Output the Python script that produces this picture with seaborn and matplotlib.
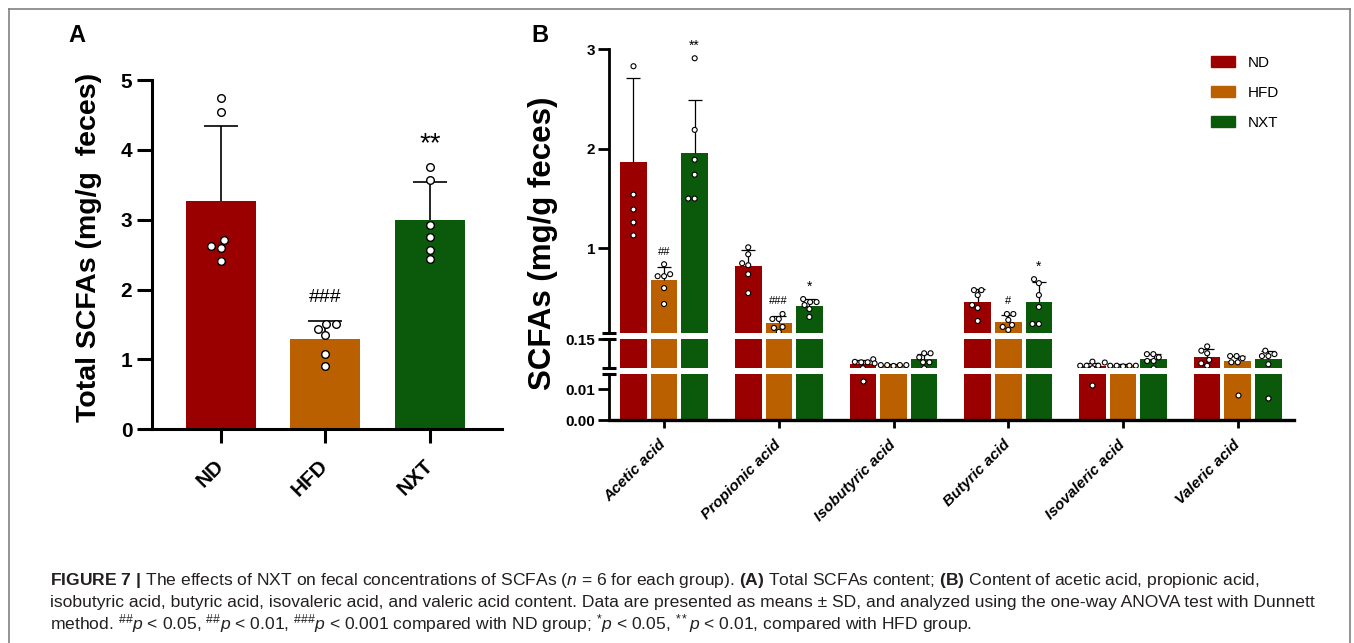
import numpy as np
import pandas as pd
import seaborn as sns
import matplotlib.pyplot as plt
import matplotlib.patches as mpatches
from matplotlib.lines import Line2D

plt.rcParams['font.family'] = ['Liberation Sans', 'DejaVu Sans']
plt.rcParams['mathtext.fontset'] = 'custom'
plt.rcParams['mathtext.rm'] = 'Liberation Sans'
plt.rcParams['mathtext.it'] = 'Liberation Sans:italic'
plt.rcParams['mathtext.bf'] = 'Liberation Sans:bold'

groups = ["ND", "HFD", "NXT"]
colors = ["#9b0000", "#bb6000", "#0b5a0b"]

# panel A: total SCFAs, one value per mouse (mg/g feces)
total_nd = [4.74, 4.54, 2.71, 2.62, 2.59, 2.41]
total_hfd = [1.51, 1.51, 1.44, 1.35, 1.08, 0.90]
total_nxt = [3.75, 3.57, 2.92, 2.75, 2.57, 2.44]
marks_a = ["", "###", "**"]

# panel B: single acids
acids = ["Acetic acid", "Propionic acid", "Isobutyric acid",
         "Butyric acid", "Isovaleric acid", "Valeric acid"]
nd_vals = [
    [3.06, 2.83, 1.54, 1.39, 1.26, 1.13],
    [1.01, 0.94, 0.85, 0.83, 0.74, 0.55],
    [0.057, 0.045, 0.043, 0.043, 0.0156, 0.0128],
    [0.58, 0.58, 0.53, 0.43, 0.40, 0.27],
    [0.046, 0.027, 0.027, 0.027, 0.0152, 0.0114],
    [0.117, 0.097, 0.085, 0.054, 0.038, 0.027],
]
hfd_vals = [
    [0.84, 0.74, 0.72, 0.72, 0.60, 0.44],
    [0.34, 0.29, 0.29, 0.21, 0.20, 0.16],
    [0.038, 0.030, 0.030, 0.030, 0.030, 0.026],
    [0.34, 0.34, 0.28, 0.23, 0.21, 0.18],
    [0.042, 0.027, 0.027, 0.027, 0.027, 0.024],
    [0.072, 0.072, 0.062, 0.043, 0.043, 0.0083],
]
nxt_vals = [
    [2.91, 2.19, 1.89, 1.74, 1.50, 1.50],
    [0.49, 0.46, 0.46, 0.43, 0.39, 0.31],
    [0.085, 0.085, 0.066, 0.043, 0.043, 0.015],
    [0.69, 0.65, 0.53, 0.41, 0.24, 0.24],
    [0.081, 0.081, 0.066, 0.049, 0.049, 0.015],
    [0.097, 0.081, 0.072, 0.072, 0.034, 0.0072],
]
marks_hfd = ["##", "###", "", "#", "", ""]
marks_nxt = ["**", "*", "", "*", "", ""]

# broken y axis of panel B: (low, high) of each piece, top to bottom
segments = [(0.15, 3.0), (0.015, 0.15), (0.0, 0.015)]

caption = [
    r"$\mathbf{FIGURE\ 7\ |}$ The effects of NXT on fecal concentrations of SCFAs "
    r"($\mathit{n}$ = 6 for each group). $\mathbf{(A)}$ Total SCFAs content; "
    r"$\mathbf{(B)}$ Content of acetic acid, propionic acid,",
    "isobutyric acid, butyric acid, isovaleric acid, and valeric acid content. "
    "Data are presented as means ± SD, and analyzed using the one-way ANOVA test with Dunnett",
    r"method. ${}^{\#\#}\mathit{p}$ < 0.05, ${}^{\#\#}\mathit{p}$ < 0.01, "
    r"${}^{\#\#\#}\mathit{p}$ < 0.001 compared with ND group; ${}^{*}\mathit{p}$ < 0.05, "
    r"${}^{**}\mathit{p}$ < 0.01, compared with HFD group.",
]

W, H = 1354, 643


def box(left, top, right, bottom):
    return [left / W, 1 - bottom / H, (right - left) / W, (bottom - top) / H]


def upper_sd(ax, x, mu, sd, **kw):
    # GraphPad style: only the upper half of the SD bar is drawn
    _, caps, _ = ax.errorbar(x, mu, yerr=[np.zeros_like(sd), sd], fmt="none",
                             ecolor="black", **kw)
    caps[0].set_visible(False)


fig = plt.figure(figsize=(W / 100, H / 100), dpi=100)

# ---------------- panel A ----------------
df_a = pd.DataFrame({"group": np.repeat(groups, 6),
                     "value": total_nd + total_hfd + total_nxt})
stats_a = df_a.groupby("group", sort=False)["value"].agg(["mean", "std"])

axA = fig.add_axes(box(151.7, 80, 502, 429.3))
sns.barplot(data=df_a, x="group", y="value", hue="group", palette=colors,
            saturation=1, errorbar=None, width=0.67, legend=False, ax=axA)
upper_sd(axA, np.arange(3), stats_a["mean"].values, stats_a["std"].values,
         elinewidth=1.2, capsize=12, capthick=1.2)
sns.swarmplot(data=df_a, x="group", y="value", color="white", edgecolor="black",
              linewidth=1.0, size=5.5, zorder=3, ax=axA)
for i, m in enumerate(marks_a):
    if m:
        top = max(df_a[df_a.group == groups[i]].value.max(),
                  stats_a["mean"].iloc[i] + stats_a["std"].iloc[i])
        axA.annotate(m, (i, top), xytext=(0, 17), textcoords="offset points",
                     ha="center", va="center", fontsize=20 if "*" in m else 14)
axA.set_xlim(-0.66, 2.69)
axA.set_ylim(0, 5)
axA.set_yticks(range(6))
axA.set_yticklabels([str(v) for v in range(6)], fontsize=15, fontweight="bold")
axA.set_xticks(range(3))
axA.set_xticklabels(groups, fontsize=15, fontweight="bold", rotation=45,
                    ha="right", va="center", rotation_mode="anchor")
axA.tick_params(axis="y", length=11, width=2.2, pad=3)
axA.tick_params(axis="x", length=10, width=2.2, pad=14)
axA.set_xlabel("")
axA.set_ylabel("")
for s in ["top", "right"]:
    axA.spines[s].set_visible(False)
for s in ["left", "bottom"]:
    axA.spines[s].set_linewidth(2.2)
fig.text(89 / W, 1 - 247 / H, "Total SCFAs (mg/g  feces)", rotation=90,
         ha="center", va="center", fontsize=20.5, fontweight="bold")

# ---------------- panel B ----------------
rows = []
for i, acid in enumerate(acids):
    for g, vals in zip(groups, [nd_vals[i], hfd_vals[i], nxt_vals[i]]):
        for v in vals:
            rows.append((acid, g, v))
df_b = pd.DataFrame(rows, columns=["acid", "group", "value"])
stats_b = df_b.groupby(["acid", "group"], sort=False)["value"].agg(["mean", "std"])

step = 0.8 / 3
seg_boxes = [box(609, 49.3, 1294, 332.9), box(609, 339.3, 1294, 368.3),
             box(609, 374, 1294, 420)]
axes_b = []
for k, ((lo, hi), b) in enumerate(zip(segments, seg_boxes)):
    ax = fig.add_axes(b)
    axes_b.append(ax)
    sns.barplot(data=df_b, x="acid", y="value", hue="group", order=acids,
                hue_order=groups, palette=colors, saturation=1, errorbar=None,
                width=0.8, gap=0.13, legend=False, ax=ax)
    for i, acid in enumerate(acids):
        for j, g in enumerate(groups):
            mu, sd = stats_b.loc[(acid, g)]
            upper_sd(ax, np.array([i + (j - 1) * step]), np.array([mu]), np.array([sd]),
                     elinewidth=0.9, capsize=5, capthick=0.9)
    upper = np.inf if k == 0 else hi
    part = df_b[(df_b.value >= lo) & (df_b.value < upper)]
    sns.swarmplot(data=part, x="acid", y="value", hue="group", order=acids,
                  hue_order=groups, palette={g: "white" for g in groups},
                  dodge=True, edgecolor="black", linewidth=0.8, size=3.6,
                  zorder=3, legend=False, ax=ax)
    ax.set_xlim(-0.48, 5.49)
    ax.set_ylim(lo, hi)
    ax.set_xlabel("")
    ax.set_ylabel("")
    for s in ["top", "right"]:
        ax.spines[s].set_visible(False)
    ax.spines["left"].set_linewidth(2.0)
    ax.spines["bottom"].set_linewidth(2.4)
    ax.tick_params(axis="y", length=8, width=2.0, pad=2)
    if k < 2:
        ax.spines["bottom"].set_visible(False)
        ax.set_xticks([])
    # break marks on the y axis
    ends = {0: [0], 1: [0, 1], 2: [1]}[k]
    for e in ends:
        ax.plot([0], [e], transform=ax.transAxes, marker="_", ms=10, mew=2.2,
                color="black", clip_on=False)

ax_top, ax_mid, ax_bot = axes_b
ax_top.set_yticks([1, 2, 3])
ax_top.set_yticklabels(["1", "2", "3"], fontsize=11, fontweight="bold")
ax_mid.set_yticks([0.15])
ax_mid.set_yticklabels(["0.15"], fontsize=11, fontweight="bold")
ax_bot.set_yticks([0, 0.01])
ax_bot.set_yticklabels(["0.00", "0.01"], fontsize=11, fontweight="bold")
ax_bot.set_xticks(range(len(acids)))
ax_bot.set_xticklabels(acids, fontsize=11, fontweight="bold", fontstyle="italic",
                       rotation=45, ha="right", va="center", rotation_mode="anchor")
ax_bot.tick_params(axis="x", length=6, width=2.0, pad=10)

for i, acid in enumerate(acids):
    for j, m in [(1, marks_hfd[i]), (2, marks_nxt[i])]:
        if not m:
            continue
        vals = df_b[(df_b.acid == acid) & (df_b.group == groups[j])].value
        mu, sd = stats_b.loc[(acid, groups[j])]
        top = max(vals[vals <= 3].max(), mu + sd)
        ax_top.annotate(m, (i + (j - 1) * step, top), xytext=(0, 9),
                        textcoords="offset points", ha="center", va="center",
                        fontsize=10 if "*" in m else 8, annotation_clip=False)

fig.text(543 / W, 1 - 243 / H, "SCFAs (mg/g feces)", rotation=90,
         ha="center", va="center", fontsize=22.5, fontweight="bold")

handles = [mpatches.Patch(color=c, label=g) for c, g in zip(colors, groups)]
fig.legend(handles=handles, loc="upper left", bbox_to_anchor=(1197 / W, 1 - 42 / H),
           frameon=False, fontsize=11, handlelength=1.6, handleheight=0.7,
           labelspacing=1.05, handletextpad=0.85)

# panel letters, caption, frame
fig.text(77 / W, 1 - 36 / H, "A", ha="center", va="center", fontsize=17, fontweight="bold")
fig.text(540 / W, 1 - 36 / H, "B", ha="center", va="center", fontsize=17, fontweight="bold")
for n, line in enumerate(caption):
    fig.text(50 / W, 1 - (580 + 22 * n) / H, line, ha="left", va="center",
             fontsize=12.6, color="#231f20")
frame_kw = dict(color="#777777", linewidth=1.1, transform=fig.transFigure)
fig.add_artist(Line2D([8.5 / W, 8.5 / W], [0, 1 - 8.5 / H], **frame_kw))
fig.add_artist(Line2D([8.5 / W, 1349.5 / W], [1 - 8.5 / H, 1 - 8.5 / H], **frame_kw))
fig.add_artist(Line2D([1349.5 / W, 1349.5 / W], [0, 1 - 8.5 / H], **frame_kw))

fig.savefig("out.png", dpi=100)
